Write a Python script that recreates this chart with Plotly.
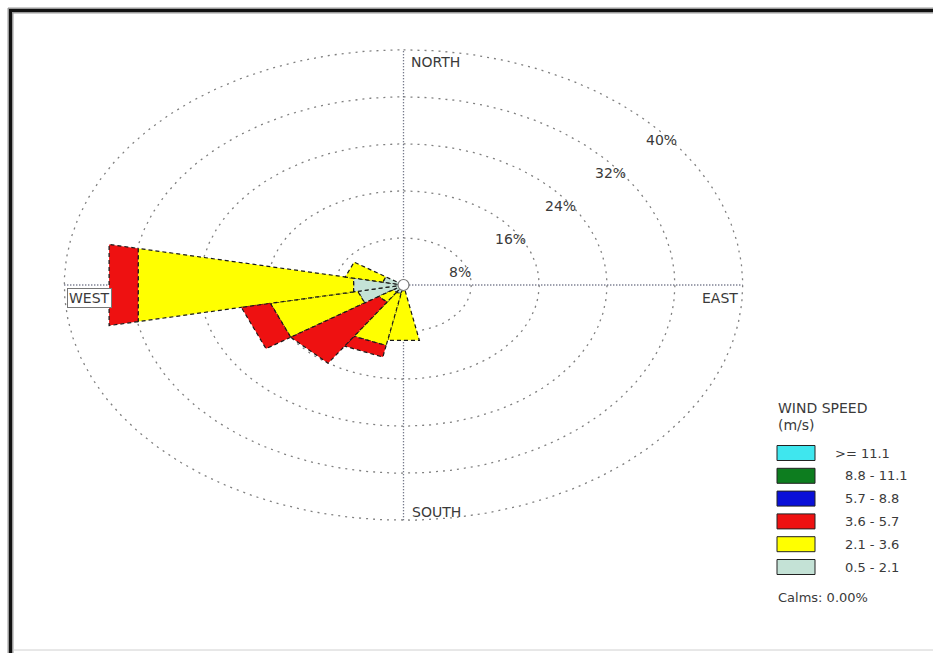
import numpy as np
import plotly.graph_objects as go

# 16 compass sectors, clockwise from north
directions = ["N", "NNE", "NE", "ENE", "E", "ESE", "SE", "SSE",
              "S", "SSW", "SW", "WSW", "W", "WNW", "NW", "NNW"]
# frequency (%) of each wind-speed class per sector
spd_0_5_2_1 = [0, 0, 0, 0, 0, 0, 0, 0, 1.0, 1.5, 1.5, 5.5, 6.0, 2.5, 0, 0]
spd_2_1_3_6 = [0, 0, 0, 0, 0, 0, 0, 0, 8.6, 9.0, 2.0, 10.5, 25.9, 4.5, 0, 0]
spd_3_6_5_7 = [0, 0, 0, 0, 0, 0, 0, 0, 0, 2.0, 12.5, 3.5, 3.5, 0, 0, 0]
spd_5_7_8_8 = [0] * 16
spd_8_8_11_1 = [0] * 16
spd_ge_11_1 = [0] * 16

class_labels = [">= 11.1", "8.8 - 11.1", "5.7 - 8.8", "3.6 - 5.7", "2.1 - 3.6", "0.5 - 2.1"]
class_colors = ["#3fe6ee", "#0d7d1f", "#0a10d8", "#ee1111", "#ffff00", "#c4e2d6"]
ring_values = [8, 16, 24, 32, 40]
calms = 0.00

W, H = 933, 653
CX, CY = 403.5, 285.0      # pixel position of the rose centre
SX, SY = 8.48, 5.88        # pixels per percent, horizontal / vertical

fig = go.Figure()

# dotted frequency rings
t = np.linspace(0, 2 * np.pi, 361)
for v in ring_values:
    fig.add_trace(go.Scatter(x=v * np.sin(t), y=v * np.cos(t), mode="lines",
                             line=dict(color="#808080", width=1.3, dash="2px,5px"),
                             hoverinfo="skip", showlegend=False))

# compass cross
rmax = ring_values[-1]
fig.add_trace(go.Scatter(x=[0, 0], y=[-rmax, rmax], mode="lines",
                         line=dict(color="#4a4f66", width=1.3, dash="1px,2px"),
                         hoverinfo="skip", showlegend=False))
fig.add_trace(go.Scatter(x=[-rmax, rmax], y=[0, 0], mode="lines",
                         line=dict(color="#4a4f66", width=1.3, dash="1px,2px"),
                         hoverinfo="skip", showlegend=False))

# stacked petals, inner class first
stack = [spd_0_5_2_1, spd_2_1_3_6, spd_3_6_5_7, spd_5_7_8_8, spd_8_8_11_1, spd_ge_11_1]
stack_colors = class_colors[::-1]
half = np.radians(360 / len(directions) / 2)
base = np.zeros(len(directions))
for vals, col in zip(stack, stack_colors):
    vals = np.asarray(vals, dtype=float)
    for i, v in enumerate(vals):
        if v <= 0:
            continue
        th = np.radians(i * 360 / len(directions))
        r0, r1 = base[i], base[i] + v
        a, b = th - half, th + half
        xs = [r0 * np.sin(a), r1 * np.sin(a), r1 * np.sin(b), r0 * np.sin(b), r0 * np.sin(a)]
        ys = [r0 * np.cos(a), r1 * np.cos(a), r1 * np.cos(b), r0 * np.cos(b), r0 * np.cos(a)]
        fig.add_trace(go.Scatter(x=xs, y=ys, mode="lines", fill="toself", fillcolor=col,
                                 line=dict(color="#1a1a1a", width=1.2, dash="4px,3px"),
                                 hoverinfo="skip", showlegend=False))
    base += vals

# hub
fig.add_trace(go.Scatter(x=[0], y=[0], mode="markers",
                         marker=dict(size=11, color="white", line=dict(color="#777", width=1.2)),
                         hoverinfo="skip", showlegend=False))

FAM = "DejaVu Sans, Verdana, sans-serif"
font = dict(family=FAM, size=14, color="#3a3a3a")
small = dict(family=FAM, size=13, color="#3a3a3a")
ann = []
# ring labels along the upper-right diagonal
for v in ring_values:
    ann.append(dict(x=0.74 * v + 0.78, y=0.7 * v - 3.4, text=f"{v}%", showarrow=False,
                    font=font, xanchor="center", yanchor="middle"))
ann.append(dict(x=0, y=rmax, text="NORTH", showarrow=False, font=font,
                xanchor="left", yanchor="middle", xshift=5, yshift=-12))
ann.append(dict(x=0, y=-rmax, text="SOUTH", showarrow=False, font=font,
                xanchor="left", yanchor="middle", xshift=6, yshift=8))
ann.append(dict(x=rmax, y=0, text="EAST", showarrow=False, font=font,
                xanchor="right", yanchor="middle", xshift=-3, yshift=-13))
ann.append(dict(x=-rmax, y=0, text="WEST", showarrow=False, font=font,
                xanchor="left", yanchor="middle", xshift=3, yshift=-13,
                bgcolor="white", bordercolor="#777", borderwidth=1, borderpad=1))


def px(x):
    return x / W


def py(y):
    return 1 - y / H


shapes = []
# legend
ann.append(dict(xref="paper", yref="paper", x=px(776), y=py(408), text="WIND SPEED",
                showarrow=False, font=font, xanchor="left", yanchor="middle"))
ann.append(dict(xref="paper", yref="paper", x=px(776), y=py(425), text="(m/s)",
                showarrow=False, font=font, xanchor="left", yanchor="middle"))
for k, (lab, col) in enumerate(zip(class_labels, class_colors)):
    yc = 453 + k * 22.8
    shapes.append(dict(type="rect", xref="paper", yref="paper",
                       x0=px(777), x1=px(815), y0=py(yc - 7.5), y1=py(yc + 7.5),
                       fillcolor=col, line=dict(color="#222", width=1)))
    x_lab = 833 if lab.startswith(">") else 843
    ann.append(dict(xref="paper", yref="paper", x=px(x_lab), y=py(yc), text=lab,
                    showarrow=False, font=small, xanchor="left", yanchor="middle"))
ann.append(dict(xref="paper", yref="paper", x=px(776), y=py(597), text=f"Calms: {calms:.2f}%",
                showarrow=False, font=small, xanchor="left", yanchor="middle"))

# page frame
shapes.append(dict(type="line", xref="paper", yref="paper", x0=px(8), x1=1, y0=py(10.5), y1=py(10.5),
                   line=dict(color="#9a9a9a", width=6)))
shapes.append(dict(type="line", xref="paper", yref="paper", x0=px(10.5), x1=px(10.5), y0=py(8), y1=0,
                   line=dict(color="#9a9a9a", width=6)))
shapes.append(dict(type="line", xref="paper", yref="paper", x0=px(9), x1=1, y0=py(10.5), y1=py(10.5),
                   line=dict(color="#111", width=3)))
shapes.append(dict(type="line", xref="paper", yref="paper", x0=px(10.5), x1=px(10.5), y0=py(9), y1=0,
                   line=dict(color="#111", width=3)))
shapes.append(dict(type="line", xref="paper", yref="paper", x0=px(13), x1=1, y0=py(650), y1=py(650),
                   line=dict(color="#d0d0d0", width=1)))

fig.update_layout(
    width=W, height=H, margin=dict(l=0, r=0, t=0, b=0),
    plot_bgcolor="white", paper_bgcolor="white",
    xaxis=dict(range=[-CX / SX, (W - CX) / SX], visible=False, fixedrange=True),
    yaxis=dict(range=[(CY - H) / SY, CY / SY], visible=False, fixedrange=True),
    annotations=ann, shapes=shapes, showlegend=False,
)

fig.write_html("out.html")
